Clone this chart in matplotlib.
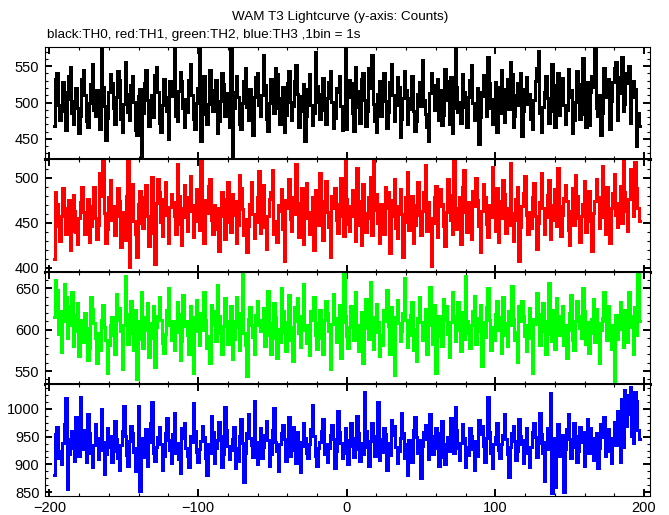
import matplotlib
matplotlib.use("Agg")
import matplotlib.pyplot as plt
from matplotlib.ticker import MultipleLocator
import numpy as np

plt.rcParams['font.family'] = ['Liberation Sans', 'DejaVu Sans']

# 1 s bins, first bin at t = -197 s
t_start = -197

th0 = [468, 532, 541, 497, 476, 489, 528, 515, 462, 505, 537, 549, 486, 471, 502, 520, 493, 458, 481, 533,
       545, 510, 474, 466, 499, 526, 553, 490, 482, 517, 504, 463, 576, 521, 495, 448, 479, 514, 539, 527,
       492, 470, 508, 543, 531, 477, 459, 498, 556, 512, 487, 476, 524, 536, 501, 462, 455, 509, 518, 421,
       486, 527, 545, 503, 468, 494, 511, 480, 538, 549, 515, 472, 460, 497, 532, 507, 488, 450, 530, 522,
       509, 578, 481, 475, 516, 542, 529, 493, 466, 505, 487, 531, 553, 511, 478, 463, 499, 520, 573, 447,
       520, 536, 484, 470, 498, 545, 517, 489, 506, 531, 458, 474, 502, 540, 526, 481, 495, 513, 467, 577,
       423, 492, 515, 536, 508, 471, 463, 500, 529, 547, 494, 476, 519, 489, 455, 507, 535, 541, 496, 482,
       510, 566, 524, 478, 461, 499, 532, 514, 485, 547, 539, 493, 470, 506, 521, 459, 483, 527, 544, 501,
       476, 495, 530, 552, 512, 467, 488, 509, 525, 447, 481, 518, 539, 497, 469, 486, 570, 523, 501, 478,
       512, 534, 490, 470, 506, 528, 543, 501, 465, 479, 520, 514, 537, 495, 462, 489, 576, 463, 508, 531,
       527, 485, 461, 549, 516, 494, 472, 533, 541, 503, 468, 489, 547, 520, 566, 498, 474, 459, 512, 530,
       481, 519, 540, 502, 465, 487, 528, 553, 510, 474, 496, 535, 522, 452, 478, 506, 544, 517, 470, 491,
       506, 537, 488, 461, 475, 512, 528, 495, 558, 503, 484, 466, 447, 513, 541, 524, 490, 509, 532, 476,
       517, 469, 483, 546, 529, 504, 471, 535, 458, 492, 574, 521, 487, 501, 472, 539, 515, 494, 466, 508,
       531, 552, 499, 476, 489, 520, 443, 480, 514, 538, 509, 482, 563, 527, 493, 471, 505, 528, 459, 522,
       486, 545, 518, 473, 500, 532, 491, 556, 539, 467, 482, 510, 527, 496, 541, 454, 488, 519, 535, 498,
       512, 477, 463, 503, 529, 548, 571, 485, 460, 494, 515, 537, 506, 472, 489, 553, 524, 466, 499, 540,
       483, 519, 534, 496, 471, 490, 546, 508, 517, 458, 476, 501, 543, 525, 478, 512, 561, 484, 466, 528,
       469, 515, 537, 521, 575, 492, 481, 510, 455, 486, 548, 523, 507, 533, 464, 502, 528, 547, 556, 476,
       513, 535, 562, 489, 498, 541, 527, 550, 472, 507, 529, 518, 440, 485, 468]

th1 = [410, 484, 471, 446, 430, 458, 488, 466, 437, 452, 475, 420, 441, 481, 463, 440, 426, 455, 473, 490,
       462, 438, 451, 476, 429, 446, 468, 490, 455, 432, 447, 505, 480, 520, 461, 427, 443, 479, 497, 453,
       468, 436, 458, 489, 474, 423, 447, 462, 431, 480, 520, 401, 466, 493, 452, 438, 412, 471, 485, 450,
       444, 478, 492, 457, 424, 439, 501, 463, 404, 472, 498, 484, 451, 435, 476, 495, 459, 428, 467, 482,
       473, 458, 437, 515, 480, 449, 425, 466, 492, 456, 441, 478, 502, 463, 434, 470, 487, 452, 442, 518,
       447, 428, 475, 461, 491, 499, 453, 437, 470, 443, 466, 419, 458, 484, 476, 432, 469, 495, 451, 440,
       482, 459, 474, 427, 448, 503, 488, 465, 436, 454, 417, 446, 471, 495, 460, 433, 451, 478, 507, 439,
       468, 492, 445, 421, 457, 476, 484, 509, 438, 452, 429, 470, 463, 487, 443, 408, 475, 466, 498, 454,
       441, 479, 460, 515, 472, 434, 450, 489, 426, 467, 494, 455, 437, 462, 478, 420, 486, 470, 448, 505,
       457, 431, 474, 496, 462, 445, 412, 480, 466, 488, 453, 439, 471, 500, 458, 435, 520, 476, 449, 441,
       469, 486, 458, 430, 511, 474, 447, 425, 493, 461, 440, 455, 478, 501, 436, 518, 464, 482, 450, 428,
       471, 452, 438, 490, 466, 484, 416, 457, 475, 498, 444, 433, 469, 487, 460, 412, 451, 479, 506, 442,
       465, 480, 427, 448, 470, 495, 459, 436, 463, 484, 514, 441, 473, 455, 402, 450, 478, 491, 434, 468,
       487, 471, 446, 424, 462, 499, 481, 453, 437, 518, 466, 443, 457, 478, 426, 490, 508, 462, 440, 473,
       451, 432, 485, 468, 500, 475, 446, 418, 463, 493, 478, 449, 434, 470, 456, 512, 467, 441, 488, 429,
       474, 455, 497, 482, 439, 466, 448, 516, 461, 430, 453, 476, 490, 408, 445, 469, 483, 502, 459, 437,
       462, 444, 479, 494, 458, 421, 450, 473, 505, 466, 438, 456, 481, 497, 432, 453, 470, 487, 446, 511,
       468, 435, 459, 477, 492, 474, 442, 425, 463, 489, 447, 503, 480, 455, 429, 458, 471, 496, 440, 466,
       485, 452, 419, 461, 474, 498, 478, 444, 456, 513, 470, 437, 490, 448, 427, 466, 483, 504, 459, 445,
       472, 491, 450, 519, 484, 463, 441, 476, 510, 497, 458, 517, 489, 466, 452]

th2 = [615, 660, 648, 595, 622, 573, 610, 655, 640, 590, 605, 628, 645, 580, 598, 618, 632, 568, 594, 612,
       585, 620, 602, 563, 578, 640, 625, 608, 590, 560, 596, 575, 612, 630, 603, 588, 548, 581, 606, 615,
       593, 570, 643, 612, 626, 598, 552, 605, 665, 619, 583, 596, 634, 601, 575, 624, 540, 589, 610, 645,
       578, 599, 615, 632, 567, 590, 608, 628, 555, 603, 617, 640, 612, 584, 572, 595, 624, 650, 606, 588,
       611, 575, 597, 633, 619, 563, 586, 642, 604, 610, 594, 570, 628, 606, 548, 615, 636, 598, 581, 620,
       600, 645, 612, 578, 592, 560, 630, 622, 607, 586, 654, 616, 596, 571, 604, 638, 611, 583, 595, 628,
       564, 589, 610, 640, 603, 575, 620, 668, 596, 582, 544, 613, 627, 605, 591, 570, 618, 635, 606, 598,
       612, 626, 580, 594, 647, 608, 571, 590, 632, 615, 566, 601, 585, 650, 622, 597, 574, 609, 642, 588,
       603, 562, 627, 611, 638, 596, 579, 617, 655, 600, 584, 606, 569, 623, 612, 640, 593, 577, 608, 624,
       590, 571, 612, 635, 620, 598, 553, 607, 643, 614, 585, 597, 630, 566, 609, 668, 616, 592, 578, 603,
       629, 611, 587, 646, 605, 574, 594, 621, 560, 613, 637, 602, 589, 658, 615, 576, 597, 631, 609, 568,
       594, 582, 624, 610, 648, 604, 571, 627, 590, 545, 615, 636, 608, 586, 598, 620, 662, 612, 579, 593,
       618, 633, 575, 601, 562, 614, 640, 609, 588, 596, 625, 570, 611, 652, 606, 583, 630, 547, 592, 617,
       603, 580, 637, 612, 628, 595, 567, 609, 645, 616, 586, 600, 633, 607, 574, 621, 589, 665, 611, 596,
       578, 605, 622, 641, 583, 598, 614, 630, 556, 609, 591, 627, 650, 612, 575, 603, 587, 619, 634, 600,
       615, 572, 639, 608, 594, 580, 622, 606, 653, 613, 588, 597, 561, 628, 610, 635, 617, 592, 574, 605,
       626, 590, 548, 613, 607, 644, 619, 582, 598, 632, 610, 571, 595, 656, 612, 586, 624, 577, 638, 608,
       593, 616, 628, 581, 605, 566, 599, 620, 642, 588, 575, 611, 634, 617, 602, 590, 650, 623, 583, 609,
       572, 596, 613, 637, 585, 625, 608, 560, 599, 614, 646, 611, 587, 629, 593, 576, 606, 538, 618, 589,
       601, 633, 612, 579, 624, 596, 585, 645, 616, 603, 570, 627, 594, 669, 610]

th3 = [880, 955, 968, 912, 925, 900, 938, 972, 1020, 856, 918, 945, 960, 930, 907, 985, 950, 915, 1022, 928,
       962, 943, 904, 990, 957, 921, 896, 935, 972, 948, 910, 926, 1000, 940, 883, 918, 965, 931, 952, 905,
       924, 978, 946, 912, 889, 935, 960, 1006, 951, 917, 898, 942, 970, 956, 922, 888, 930, 1005, 852, 947,
       913, 930, 963, 898, 941, 975, 1012, 920, 906, 932, 949, 968, 937, 890, 915, 957, 984, 944, 926, 902,
       955, 993, 921, 938, 910, 884, 966, 947, 975, 929, 915, 896, 952, 940, 1010, 961, 923, 905, 928, 942,
       970, 949, 912, 880, 936, 921, 987, 958, 903, 930, 944, 976, 951, 895, 918, 1003, 962, 934, 909, 926,
       945, 967, 893, 929, 906, 952, 981, 938, 868, 920, 956, 990, 948, 935, 913, 1015, 941, 900, 927, 965,
       911, 932, 953, 978, 944, 897, 919, 962, 1002, 940, 925, 888, 936, 957, 971, 946, 907, 930, 985, 916,
       949, 968, 926, 903, 958, 940, 887, 934, 975, 947, 920, 911, 936, 963, 1008, 952, 915, 898, 929, 941,
       960, 982, 918, 937, 905, 930, 953, 971, 946, 894, 925, 996, 959, 938, 912, 921, 966, 944, 901, 934,
       975, 948, 913, 928, 988, 957, 906, 939, 919, 1030, 961, 932, 897, 942, 975, 951, 916, 927, 1013, 908,
       945, 923, 966, 955, 890, 938, 917, 980, 953, 969, 931, 902, 925, 948, 993, 957, 912, 936, 880, 944,
       927, 905, 962, 986, 949, 921, 944, 875, 933, 958, 971, 946, 910, 990, 952, 919, 930, 965, 941, 898,
       956, 978, 914, 901, 937, 950, 925, 984, 945, 920, 1004, 962, 929, 908, 938, 973, 948, 895, 931, 917,
       966, 952, 928, 889, 942, 915, 980, 955, 970, 934, 904, 947, 1022, 959, 921, 893, 936, 950, 974, 926,
       912, 937, 953, 990, 946, 918, 878, 932, 957, 969, 942, 908, 925, 981, 951, 936, 903, 944, 965, 920,
       896, 931, 958, 975, 949, 914, 938, 993, 955, 920, 870, 940, 966, 927, 1028, 848, 948, 860, 935, 972,
       916, 938, 953, 850, 927, 963, 990, 945, 912, 932, 975, 951, 904, 925, 968, 940, 958, 897, 934, 982,
       921, 966, 947, 908, 939, 957, 893, 930, 972, 950, 986, 915, 941, 963, 924, 902, 948, 977, 935, 996,
       958, 905, 1018, 932, 1035, 969, 1025, 990, 1040, 951, 938, 1030, 1015, 962, 945]

series = [th0, th1, th2, th3]
colors = ['black', '#ff0000', '#00ff00', '#0000ff']
ylims = [(422, 576), (395.6, 520.4), (534.3, 670), (843, 1045)]
minor_steps = [10, 10, 10, 12.5]

W, H = 669, 515
fig = plt.figure(figsize=(W / 100, H / 100), dpi=100)

left, right = 45 / W, 650 / W
edges = [47.3, 159.3, 271.7, 384, 496]

for k in range(4):
    y0 = 1 - edges[k + 1] / H
    h = (edges[k + 1] - edges[k]) / H
    ax = fig.add_axes([left, y0, right - left, h])
    vals = np.array(series[k])
    t = t_start + np.arange(len(vals))
    ax.plot(t, vals, color=colors[k], lw=1.05, drawstyle='steps-mid',
            antialiased=False)
    ax.set_xlim(-203, 204)
    ax.set_ylim(*ylims[k])
    ax.xaxis.set_major_locator(MultipleLocator(100))
    ax.xaxis.set_minor_locator(MultipleLocator(20))
    ax.yaxis.set_major_locator(MultipleLocator(50))
    ax.yaxis.set_minor_locator(MultipleLocator(minor_steps[k]))
    ax.tick_params(which='both', direction='in', top=True, right=True, labelsize=10.5)
    ax.tick_params(which='major', length=5, width=1.4)
    ax.tick_params(which='minor', length=2.5, width=0.8)
    ax.tick_params(axis='y', pad=4)
    for s in ax.spines.values():
        s.set_linewidth(0.8)
    if k < 3:
        ax.tick_params(labelbottom=False)
        ax.spines['bottom'].set_linewidth(2.2)

fig.text(340 / W, 1 - 17 / H, 'WAM T3 Lightcurve (y-axis: Counts)',
         ha='center', va='center', fontsize=9.7)
fig.text(47 / W, 1 - 35 / H, 'black:TH0, red:TH1, green:TH2, blue:TH3 ,1bin = 1s',
         ha='left', va='center', fontsize=9.7)

fig.savefig('out.png', dpi=100)
